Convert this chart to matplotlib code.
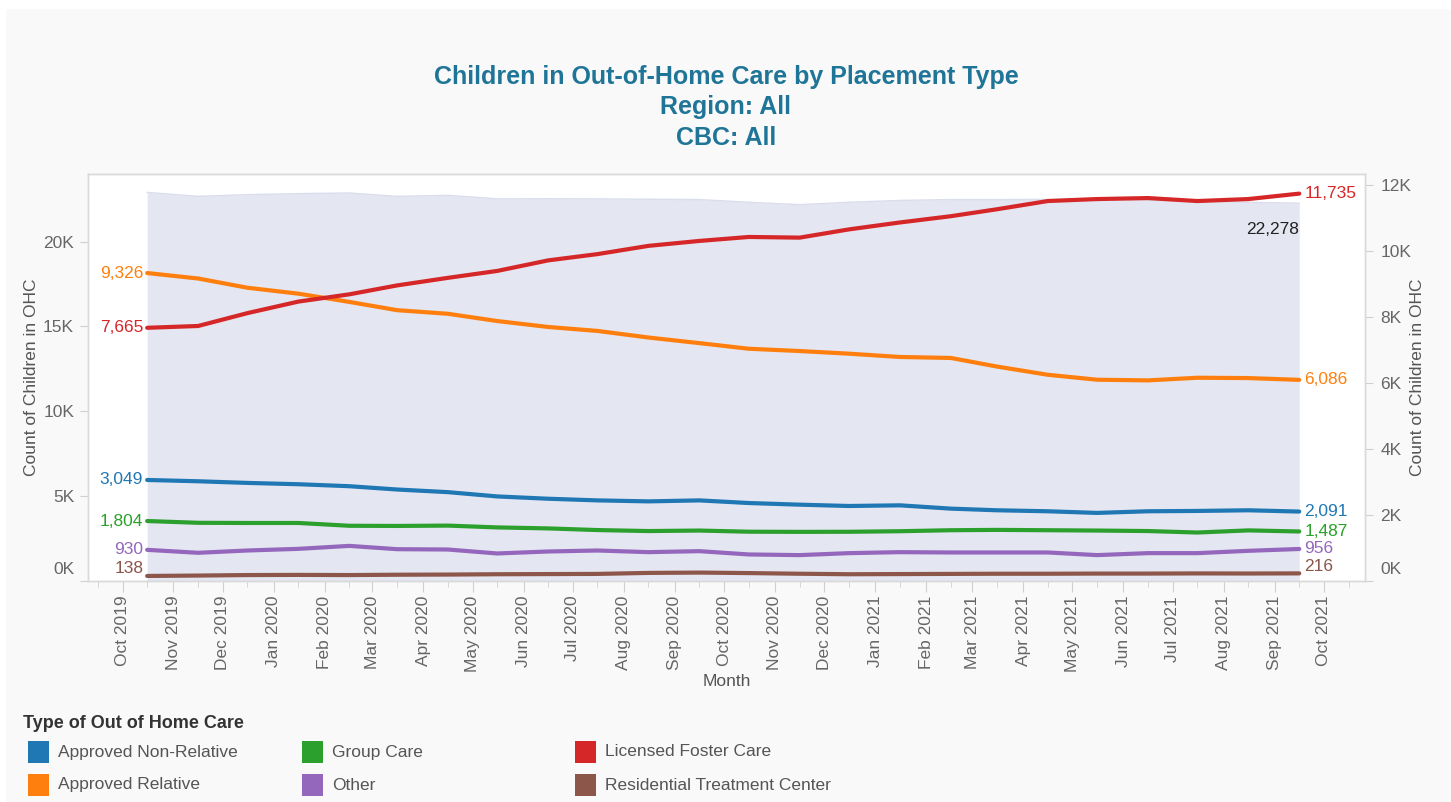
import matplotlib
matplotlib.use('Agg')
import matplotlib.pyplot as plt
import matplotlib.dates as mdates
from matplotlib.patches import Rectangle
from matplotlib.transforms import ScaledTranslation
import pandas as pd

plt.rcParams['font.family'] = ['Liberation Sans', 'DejaVu Sans']

# ---------------- data ----------------
months = ['2019-10', '2019-11', '2019-12', '2020-01', '2020-02', '2020-03',
          '2020-04', '2020-05', '2020-06', '2020-07', '2020-08', '2020-09',
          '2020-10', '2020-11', '2020-12', '2021-01', '2021-02', '2021-03',
          '2021-04', '2021-05', '2021-06', '2021-07', '2021-08', '2021-09']

approved_non_relative = [3049, 3010, 2960, 2920, 2860, 2760, 2680, 2550, 2480, 2430, 2400, 2430,
                         2350, 2300, 2260, 2280, 2180, 2130, 2100, 2050, 2100, 2110, 2130, 2091]
approved_relative = [9326, 9160, 8880, 8700, 8450, 8200, 8090, 7870, 7690, 7570, 7370, 7200,
                     7030, 6960, 6880, 6780, 6750, 6490, 6240, 6090, 6070, 6150, 6140, 6086]
group_care = [1804, 1750, 1745, 1745, 1660, 1655, 1665, 1610, 1580, 1530, 1500, 1515,
              1480, 1475, 1478, 1495, 1525, 1535, 1525, 1515, 1500, 1455, 1520, 1487]
licensed_foster_care = [7665, 7720, 8110, 8460, 8680, 8950, 9180, 9390, 9710, 9900, 10150, 10300,
                        10420, 10400, 10650, 10860, 11050, 11260, 11510, 11570, 11600, 11510, 11570, 11735]
other = [930, 840, 910, 960, 1050, 950, 940, 820, 880, 910, 860, 890,
         790, 770, 830, 860, 850, 850, 850, 770, 830, 830, 900, 956]
residential_treatment = [138, 150, 165, 170, 165, 175, 180, 190, 195, 200, 230, 240,
                         225, 205, 190, 195, 200, 205, 205, 210, 210, 215, 212, 216]
total_children = [22912, 22680, 22780, 22840, 22880, 22680, 22740, 22530, 22540, 22530, 22510, 22490,
                  22330, 22190, 22330, 22440, 22490, 22490, 22500, 22510, 22450, 22380, 22330, 22278]

category_names = ['Approved Non-Relative', 'Approved Relative', 'Group Care', 'Other',
                  'Licensed Foster Care', 'Residential Treatment Center']
category_values = [approved_non_relative, approved_relative, group_care, other,
                   licensed_foster_care, residential_treatment]
category_colors = ['#1F77B4', '#FF7F0E', '#2CA02C', '#9467BD', '#D62728', '#8C564B']
label_dy_px = [0, 0, 0, 0, 0, 7]

left_ticks = [0, 5000, 10000, 15000, 20000]
right_ticks = [0, 2000, 4000, 6000, 8000, 10000, 12000]

# ---------------- figure ----------------
W, H = 1451, 802
fig = plt.figure(figsize=(W / 100, H / 100), dpi=100, facecolor='white')
fig.patches.append(Rectangle((6 / W, 0), 1, 1 - 9 / H, transform=fig.transFigure,
                             facecolor='#F9F9F9', edgecolor='none', zorder=-10))

ax = fig.add_axes([88 / W, 1 - 580.5 / H, (1365 - 88) / W, (580.5 - 174) / H])
ax.set_facecolor('white')

x = [pd.Timestamp(m + '-16') for m in months]

ax.fill_between(x, total_children, color='#E4E6F2', lw=0, zorder=1)
ax.plot(x, total_children, color='#D9DDEC', lw=1, zorder=2)
ax.set_ylim(0, 24000)
ax.set_xlim(pd.Timestamp('2019-09-10'), pd.Timestamp('2021-10-26'))

ax2 = ax.twinx()
ax2.set_ylim(0, 12330)

for vals, col, dy in zip(category_values, category_colors, label_dy_px):
    ax2.plot(x, vals, color=col, lw=3, solid_capstyle='round', zorder=3)
    ax2.annotate(f'{vals[0]:,}', (x[0], vals[0]), xytext=(-4, dy), textcoords='offset pixels',
                 ha='right', va='center', color=col, fontsize=12.5)
    ax2.annotate(f'{vals[-1]:,}', (x[-1], vals[-1]), xytext=(5, dy), textcoords='offset pixels',
                 ha='left', va='center', color=col, fontsize=12.5)

ax.annotate(f'{total_children[-1]:,}', (x[-1], total_children[-1]), xytext=(0, -26),
            textcoords='offset pixels', ha='right', va='center', color='#222222', fontsize=12.5)

# axes styling
tick_col = '#D0D0D0'
lab_col = '#666666'
for a in (ax, ax2):
    for s in a.spines.values():
        s.set_color('#D9D9D9')
        s.set_linewidth(1)

ax.set_yticks(left_ticks)
ax.set_yticklabels([f'{int(v / 1000)}K' for v in left_ticks])
ax2.set_yticks(right_ticks)
ax2.set_yticklabels([f'{int(v / 1000)}K' for v in right_ticks])

ax.tick_params(axis='y', direction='out', length=6, color=tick_col, labelcolor=lab_col,
               labelsize=12.5, pad=4)
ax2.tick_params(axis='y', direction='out', length=6, color=tick_col, labelcolor=lab_col,
                labelsize=12.5, pad=5)

ax.xaxis.set_major_locator(mdates.MonthLocator())
ax.xaxis.set_major_formatter(mdates.DateFormatter('%b %Y'))
ax.xaxis.set_minor_locator(mdates.MonthLocator(bymonthday=16))
ax.tick_params(axis='x', which='major', direction='out', length=8, color=tick_col,
               labelcolor=lab_col, labelsize=12.5, labelrotation=90, pad=3)
ax.tick_params(axis='x', which='minor', direction='out', length=4, color=tick_col)

# shift the 0K labels up like the reference
shift = ScaledTranslation(0, 13 / 100, fig.dpi_scale_trans)
t0 = ax.yaxis.get_major_ticks()[0]
t0.label1.set_transform(t0.label1.get_transform() + shift)
t0r = ax2.yaxis.get_major_ticks()[0]
t0r.label2.set_transform(t0r.label2.get_transform() + shift)

ax.set_xlabel('Month', color='#555555', fontsize=12.5)
ax.xaxis.set_label_coords(0.5, (580.5 - 682) / 406.5)
ax.xaxis.label.set_va('center')

ax.set_ylabel('Count of Children in OHC', color='#555555', fontsize=12.5)
ax.yaxis.set_label_coords((32 - 88) / 1277, 0.5)
ax.yaxis.label.set_va('center')
ax2.set_ylabel('Count of Children in OHC', color='#555555', fontsize=12.5)
ax2.yaxis.set_label_coords((1418 - 88) / 1277, 0.5)
ax2.yaxis.label.set_va('center')

# title
title_col = '#1F7598'
for txt, yy in [('Children in Out-of-Home Care by Placement Type', 77),
                ('Region: All', 107), ('CBC: All', 138)]:
    fig.text(726 / W, 1 - yy / H, txt, ha='center', va='center', fontsize=18,
             fontweight='bold', color=title_col)

# legend
fig.text(23 / W, 1 - 723 / H, 'Type of Out of Home Care', ha='left', va='center',
         fontsize=13, fontweight='bold', color='#333333')
col_x = [28, 302, 575]
row_y = [752, 785]
for i, (name, col) in enumerate(zip(category_names, category_colors)):
    cx = col_x[i // 2]
    cy = row_y[i % 2]
    fig.patches.append(Rectangle((cx / W, 1 - (cy + 11) / H), 21 / W, 22 / H,
                                 transform=fig.transFigure, facecolor=col, edgecolor='none'))
    fig.text((cx + 30) / W, 1 - cy / H, name, ha='left', va='center', fontsize=12.5,
             color='#555555')

fig.savefig('out.png', dpi=100, facecolor=fig.get_facecolor())
